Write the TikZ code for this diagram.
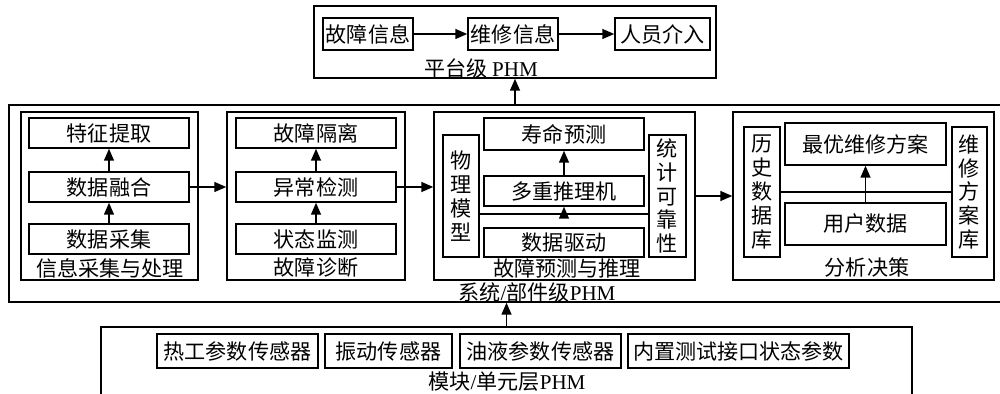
\documentclass[tikz,border=0pt]{standalone}
\usepackage{fontspec}
\setmainfont{Liberation Serif}
\newfontfamily\cjk{Noto Sans CJK SC}
\usetikzlibrary{arrows.meta}

\begin{document}
\begin{tikzpicture}
        [x=0.02cm, y=-0.02cm,
        every node/.style={font=\cjk\fontsize{12pt}{13.6pt}\selectfont, inner sep=0pt},
        box/.style={draw, line width=0.85pt},
        frame/.style={draw, line width=0.85pt},
        vbox/.style={draw, line width=0.85pt, align=center},
        arr/.style={-{Triangle[length=2.4mm,width=2mm]}, line width=0.85pt}]

    \useasboundingbox (0,0) rectangle (1000,394);

    % platform level
    \node[frame, minimum width=8.04cm, minimum height=1.44cm] (plat) at (515,42) {};
    \node[box, minimum width=1.8cm, minimum height=0.64cm] (gzxx) at (368,34) {故障信息};
    \node[box, minimum width=1.8cm, minimum height=0.64cm] (wxxx) at (513,34) {维修信息};
    \node[box, minimum width=1.9cm, minimum height=0.64cm] (ryjr) at (662.5,34) {人员介入};
    \node (platlbl) at (481,68) {平台级 {\rmfamily PHM}};
    \draw[arr] (gzxx) -- (wxxx);
    \draw[arr] (wxxx) -- (ryjr);

    % system / component level
    \node[frame, minimum width=19.92cm, minimum height=3.94cm] (sys) at (507,203.5) {};
    \node (syslbl) at (537,292) {系统{\rmfamily /}部件级{\rmfamily PHM}};
    \draw[arr] (plat.south |- sys.north) -- (plat.south);

    \begin{scope}
      \node[frame, minimum width=3.54cm, minimum height=3.36cm] (xxcj) at (109.5,196) {};
      \node[box, minimum width=3.2cm, minimum height=0.6cm] (tzqq) at (109,133) {特征提取};
      \node[box, minimum width=3.2cm, minimum height=0.6cm] (sjrh) at (109,187) {数据融合};
      \node[box, minimum width=3.2cm, minimum height=0.6cm] (sjcj) at (109,239) {数据采集};
      \node (xxcjlbl) at (110,268) {信息采集与处理};
      \draw[arr] (sjcj) -- (sjrh);
      \draw[arr] (sjrh) -- (tzqq);
    \end{scope}

    \begin{scope}
      \node[frame, minimum width=3.56cm, minimum height=3.36cm] (gzzd) at (316,196) {};
      \node[box, minimum width=3.2cm, minimum height=0.6cm] (gzgl) at (316,133) {故障隔离};
      \node[box, minimum width=3.2cm, minimum height=0.6cm] (ycjc) at (316,187) {异常检测};
      \node[box, minimum width=3.2cm, minimum height=0.6cm] (ztjc) at (316,239) {状态监测};
      \node (gzzdlbl) at (316,268) {故障诊断};
      \draw[arr] (ztjc) -- (ycjc);
      \draw[arr] (ycjc) -- (gzgl);
    \end{scope}

    \begin{scope}
      \node[frame, minimum width=5.22cm, minimum height=3.36cm] (gzyc) at (564.5,196) {};
      \node[vbox, minimum width=0.72cm, minimum height=2.44cm] (wlmx) at (461,196) {物\\理\\模\\型};
      \node[vbox, minimum width=0.74cm, minimum height=2.44cm] (tjkk) at (667.5,196) {统\\计\\可\\靠\\性};
      \node[box, minimum width=3.2cm, minimum height=0.64cm] (smyc) at (564,134) {寿命预测};
      \node[box, minimum width=3.2cm, minimum height=0.6cm] (dctl) at (564,191) {多重推理机};
      \node[box, minimum width=3.2cm, minimum height=0.58cm] (sjqd) at (564,242.5) {数据驱动};
      \node (gzyclbl) at (567,268) {故障预测与推理};
      \coordinate (jd) at (564,214);
      \draw[line width=0.85pt] (wlmx.east |- jd) -- (tjkk.west |- jd);
      \draw[arr] (jd) -- (dctl.south);
      \draw[arr] (dctl) -- (smyc);
    \end{scope}

    \begin{scope}
      \node[frame, minimum width=5.22cm, minimum height=3.36cm] (fxjc) at (863.5,196) {};
      \node[vbox, minimum width=0.72cm, minimum height=2.6cm] (lssj) at (762,192) {历\\史\\数\\据\\库};
      \node[vbox, minimum width=0.7cm, minimum height=2.6cm] (wxfa) at (969.5,192) {维\\修\\方\\案\\库};
      \node[box, minimum width=3.22cm, minimum height=0.84cm] (zywx) at (865.5,144) {最优维修方案};
      \node[box, minimum width=3.22cm, minimum height=0.84cm] (yhsj) at (865.5,224) {用户数据};
      \node (fxjclbl) at (867,267) {分析决策};
      \draw[line width=0.85pt] (lssj.east) -- (wxfa.west);
      \draw[arr] (yhsj) -- (zywx);
    \end{scope}

    \draw[arr] (sjrh.east) -- (sjrh.east -| gzzd.west);
    \draw[arr] (ycjc.east) -- (ycjc.east -| gzyc.west);
    \draw[arr] (gzyc) -- (fxjc);

    % module / unit level
    \node[frame, minimum width=16.22cm, minimum height=2.12cm] (mkdy) at (506.5,380) {};
    \node[box, minimum width=3.22cm, minimum height=0.68cm] (rgcs) at (237.5,351) {热工参数传感器};
    \node[box, minimum width=2.54cm, minimum height=0.68cm] (zdcg) at (388.5,351) {振动传感器};
    \node[box, minimum width=3.22cm, minimum height=0.68cm] (yycs) at (540.5,351) {油液参数传感器};
    \node[box, minimum width=4.42cm, minimum height=0.68cm] (nzcs) at (738.5,351) {内置测试接口状态参数};
    \node (mkdylbl) at (507,382) {模块{\rmfamily /}单元层{\rmfamily PHM}};
    \draw[arr] (mkdy.north) -- (mkdy.north |- sys.south);
\end{tikzpicture}
\end{document}
